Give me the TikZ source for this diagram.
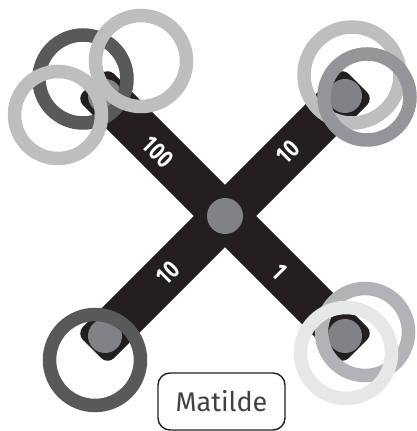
\documentclass[tikz,border=0pt]{standalone}
\usepackage{fontspec}
\setmainfont{Fira Sans}
\newfontfamily\armfont[FakeStretch=0.78]{Fira Sans}
\usepackage{tikz}
\usetikzlibrary{positioning}

\definecolor{armblack}{HTML}{231F20}
\definecolor{hubgray}{HTML}{808285}
\definecolor{ringdark}{HTML}{58595B}
\definecolor{ringlight}{HTML}{BCBEC0}
\definecolor{ringmid}{HTML}{939598}
\definecolor{ringsilver}{HTML}{B1B3B6}
\definecolor{ringpale}{HTML}{E6E7E8}
\definecolor{namegray}{HTML}{414042}

\begin{document}
\begin{tikzpicture}[x=1pt,y=1pt,
  armbar/.style={fill=armblack, rounded corners=9pt},
  mount/.style={fill=hubgray, circle, inner sep=0pt, minimum size=#1},
  armlabel/.style={text=white, inner sep=0pt, font=\armfont\bfseries\fontsize{25}{25}\selectfont},
  prop/.style={line width=13.5pt}]
\useasboundingbox (0,0) rectangle (416,431);
% Frame arms
\foreach \a in {45,-45} {
  \fill[armbar, rotate around={\a:(225,215)}] (37,193) rectangle (413,237);
}
% Hub and motor mounts
\node[mount=36pt] (hub) at (225,215) {};
\foreach \n/\x/\y in {tl/105/335, tr/345/335, bl/105/95, br/345/95} {
  \node[mount=34pt] (m\n) at (\x,\y) {};
}
% Arm labels
\node[armlabel, rotate=-45] (ltl) at (158,279) {100};
\node[armlabel, rotate=45] (ltr) at (288,279) {10};
\node[armlabel, rotate=45] (lbl) at (168,158) {10};
\node[armlabel, rotate=-45] (lbr) at (280,159) {1};
% Propeller rings
\foreach \c/\x/\y/\r in {ringdark/83/352/44, ringlight/58/316/43.5, ringlight/141/370/45.5,
    ringlight/352/356/48, ringmid/367/334/43,
    ringdark/95/71/45.5,
    ringsilver/365/99/43.5, ringpale/346/78/45.5} {
  \draw[prop, draw=\c] (\x,\y) circle (\r);
}
% Name tag
\node[draw=armblack, line width=1.4pt, rounded corners=12pt, minimum width=127pt, minimum height=57pt,
  text=namegray, font=\fontsize{27}{27}\selectfont] (name) at (221.5,29.5) {Matilde};
\end{tikzpicture}
\end{document}
